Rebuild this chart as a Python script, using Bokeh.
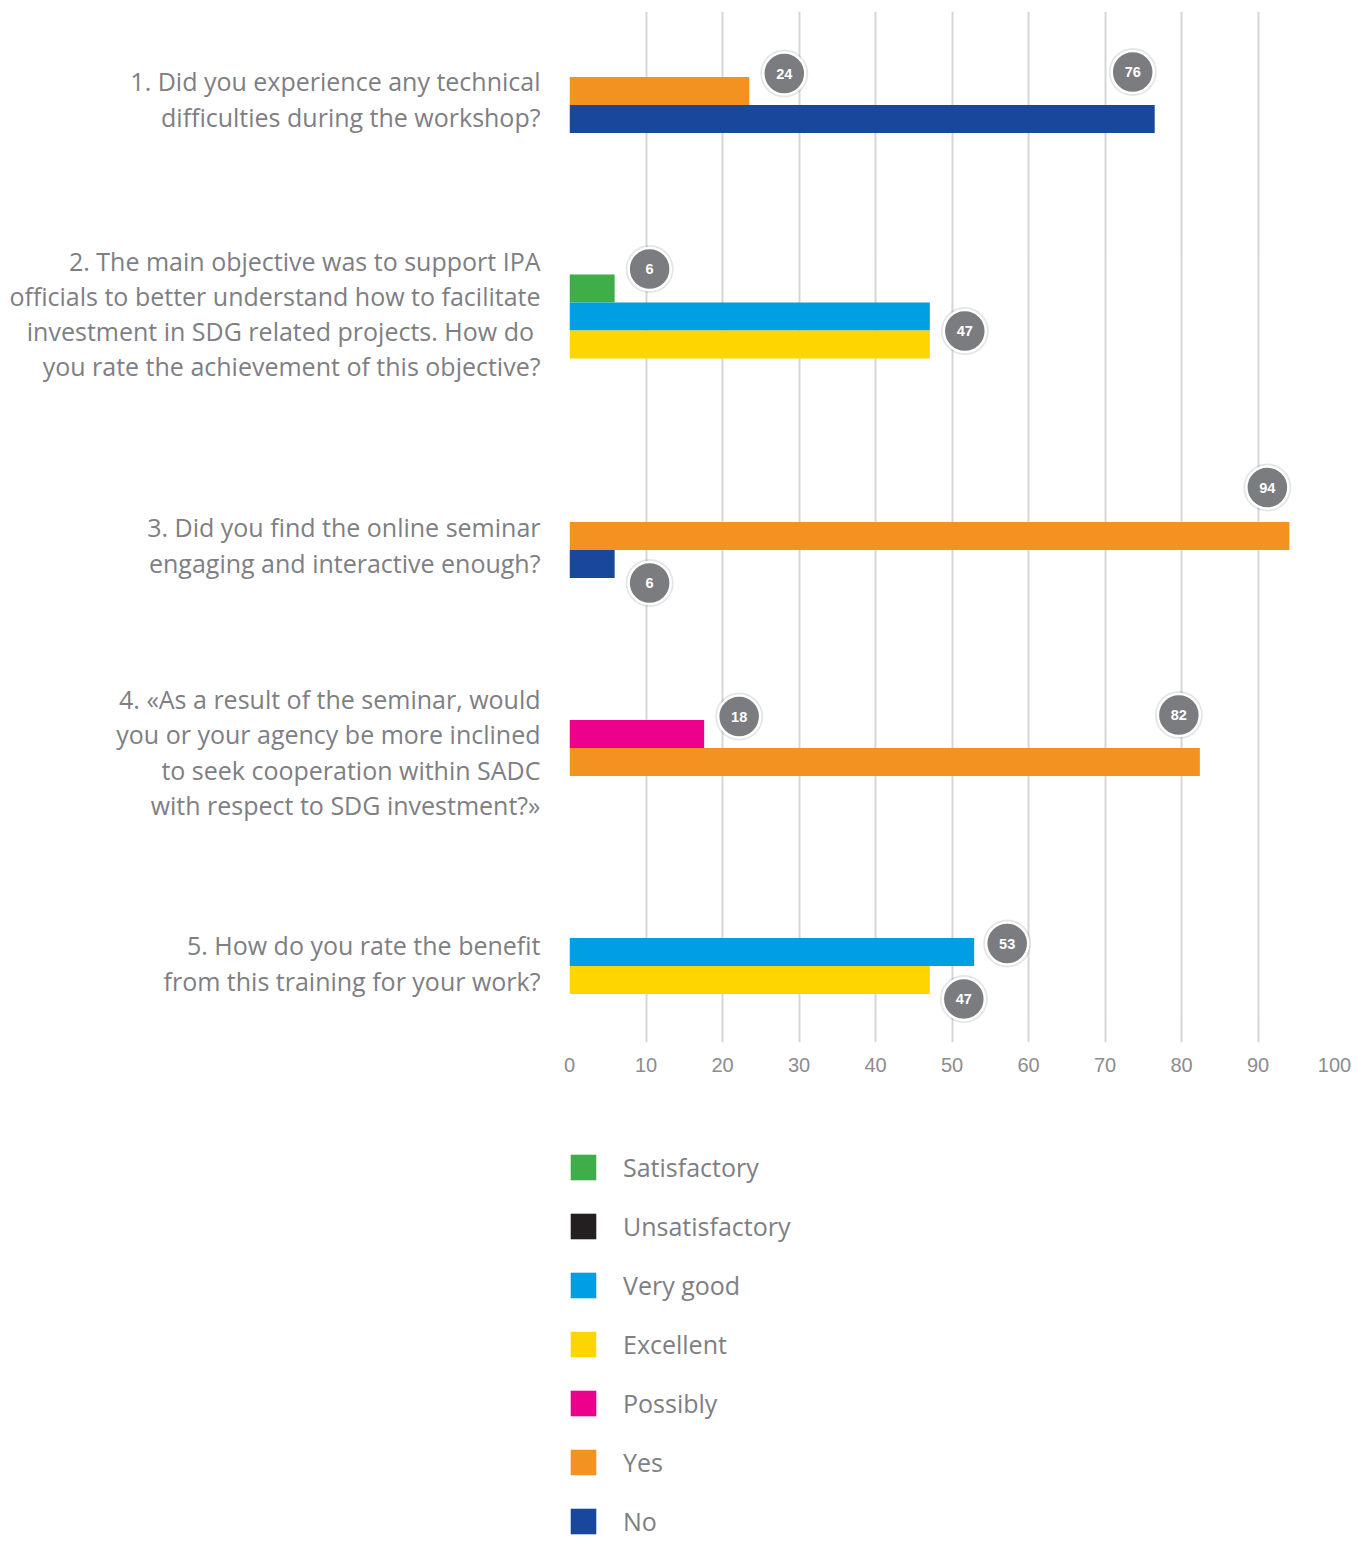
from bokeh.plotting import figure
from bokeh.models import ColumnDataSource, Range1d, FixedTicker, Legend, LegendItem, Spacer
from bokeh.layouts import row, column
from bokeh.embed import file_html
from bokeh.resources import INLINE
from bokeh.core.properties import value

# ---------------- data ----------------
series = ["Satisfactory", "Unsatisfactory", "Very good", "Excellent", "Possibly", "Yes", "No"]
series_colors = ["#3fae49", "#231f20", "#009fe3", "#ffd500", "#ec008c", "#f39220", "#18479b"]

questions = [
    "1. Did you experience any technical\ndifficulties during the workshop?",
    "2. The main objective was to support IPA\nofficials to better understand how to facilitate\ninvestment in  SDG related projects. How do\nyou rate the achievement of this objective?",
    "3. Did you find the online seminar\nengaging and interactive enough?",
    "4. \u00abAs a result of the seminar, would\nyou or your agency be more inclined\nto seek cooperation within SADC\nwith respect to SDG investment?\u00bb",
    "5. How do you rate the benefit\nfrom this training for your work?",
]

# bars of each question, top to bottom
q1_series = ["Yes", "No"]
q1_values = [23.5, 76.5]
q1_labels = ["24", "76"]

q2_series = ["Satisfactory", "Very good", "Excellent"]
q2_values = [5.9, 47.1, 47.1]
q2_labels = ["6", "47", ""]

q3_series = ["Yes", "No"]
q3_values = [94.1, 5.9]
q3_labels = ["94", "6"]

q4_series = ["Possibly", "Yes"]
q4_values = [17.6, 82.4]
q4_labels = ["18", "82"]

q5_series = ["Very good", "Excellent"]
q5_values = [52.9, 47.1]
q5_labels = ["53", "47"]

x_ticks = [0, 10, 20, 30, 40, 50, 60, 70, 80, 90, 100]

# ---------------- layout / style ----------------
FRAME_W, FRAME_H = 765, 1031
LEFT_W = 553
BAR_H = 28
group_centers = [93.5, 305, 538.5, 736.5, 954.5]          # px from frame top
label_nudge = [-6, -3, -5, 4, -3]                          # px, question label vertical nudge
# bubble offsets (px) relative to end / centre of each bar
bubble_offsets = [
    [(35, -17.5), (-22, -47)],
    [(35, -19.5), (35, 14.5), None],
    [(-22, -48.5), (35, 19)],
    [(35, -17.5), (-21, -47)],
    [(33, -8.5), (34, 19)],
]
TEXT_GRAY = "#7e7e83"
FONT = "Liberation Sans"
QFONT = "Open Sans"

groups = [
    (q1_series, q1_values, q1_labels),
    (q2_series, q2_values, q2_labels),
    (q3_series, q3_values, q3_labels),
    (q4_series, q4_values, q4_labels),
    (q5_series, q5_values, q5_labels),
]

px_per_unit = FRAME_W / 100.0

bars = {s: dict(y=[], right=[]) for s in series}
bub = dict(x=[], y=[], text=[])
for gi, (ss, vv, ll) in enumerate(groups):
    n = len(ss)
    for i, (s, v, lab) in enumerate(zip(ss, vv, ll)):
        yc = group_centers[gi] + (i - (n - 1) / 2.0) * BAR_H
        bars[s]["y"].append(yc)
        bars[s]["right"].append(v)
        off = bubble_offsets[gi][i]
        if lab and off is not None:
            bub["x"].append(v + off[0] / px_per_unit)
            bub["y"].append(yc + off[1])
            bub["text"].append(lab)

y_range = Range1d(FRAME_H, 0)

# ---------------- main chart ----------------
p = figure(x_range=Range1d(0, 100), y_range=y_range,
           frame_width=FRAME_W, frame_height=FRAME_H,
           min_border_left=16, min_border_right=22, min_border_top=11, min_border_bottom=100,
           y_axis_location=None, toolbar_location=None, output_backend="svg",
           outline_line_color=None)
p.ygrid.visible = False
p.xgrid.grid_line_color = "#d6d6d6"
p.xgrid.grid_line_width = 2
p.xaxis.ticker = FixedTicker(ticks=x_ticks)
p.xaxis.axis_line_color = None
p.xaxis.major_tick_line_color = None
p.xaxis.minor_tick_line_color = None
p.xaxis.major_label_standoff = 9
p.xaxis.major_label_text_font_size = "20px"
p.xaxis.major_label_text_font = FONT
p.xaxis.major_label_text_color = "#8c8c90"

for s, c in zip(series, series_colors):
    src = ColumnDataSource(bars[s])
    p.hbar(y="y", left=0, right="right", height=BAR_H, source=src,
           fill_color=c, line_color=None)

bsrc = ColumnDataSource(bub)
p.scatter(x="x", y="y", source=bsrc, size=48, fill_color="#000000", fill_alpha=0.10, line_color=None)
p.scatter(x="x", y="y", source=bsrc, size=42, fill_color="#7b7c7f",
          line_color="white", line_width=2.5)
p.text(x="x", y="y", text="text", source=bsrc, text_color="white",
       text_font=value(FONT), text_font_style="bold", text_font_size="14.5px",
       text_align="center", text_baseline="middle")

# ---------------- question labels ----------------
left = figure(x_range=Range1d(0, LEFT_W), y_range=y_range,
              frame_width=LEFT_W, frame_height=FRAME_H,
              min_border_left=0, min_border_right=0, min_border_top=11, min_border_bottom=100,
              x_axis_location=None, y_axis_location=None,
              toolbar_location=None, output_backend="svg", outline_line_color=None)
left.xgrid.visible = False
left.ygrid.visible = False
qsrc = ColumnDataSource(dict(x=[LEFT_W] * len(questions), y=group_centers,
                             dy=label_nudge, text=questions))
left.text(x="x", y="y", text="text", source=qsrc, x_offset=-13, y_offset="dy",
          text_align="right", text_baseline="middle", text_color=TEXT_GRAY,
          text_font=value(QFONT), text_font_size="25px", text_line_height=1.03)

# ---------------- legend ----------------
lg = figure(width=797, height=400, min_border=0, x_axis_location=None, y_axis_location=None,
            toolbar_location=None, output_backend="svg", outline_line_color=None,
            x_range=Range1d(0, 1), y_range=Range1d(0, 1))
lg.xgrid.visible = False
lg.ygrid.visible = False
items = []
for s, c in zip(series, series_colors):
    r = lg.hbar(y=[-10], left=[0], right=[0], height=0.1, fill_color=c, line_color=None)
    items.append(LegendItem(label=s, renderers=[r]))
legend = Legend(items=items, location="top_left", orientation="vertical",
                glyph_width=32, glyph_height=32, label_standoff=24, spacing=25,
                label_text_font=QFONT, label_text_font_size="25px",
                label_text_color=TEXT_GRAY, label_text_baseline="middle",
                border_line_color=None, background_fill_alpha=0,
                padding=0, margin=8)
lg.add_layout(legend, "center")

layout = column(row(left, p), row(Spacer(width=559, height=400), lg))

open("out.html", "w").write(file_html(layout, INLINE))
